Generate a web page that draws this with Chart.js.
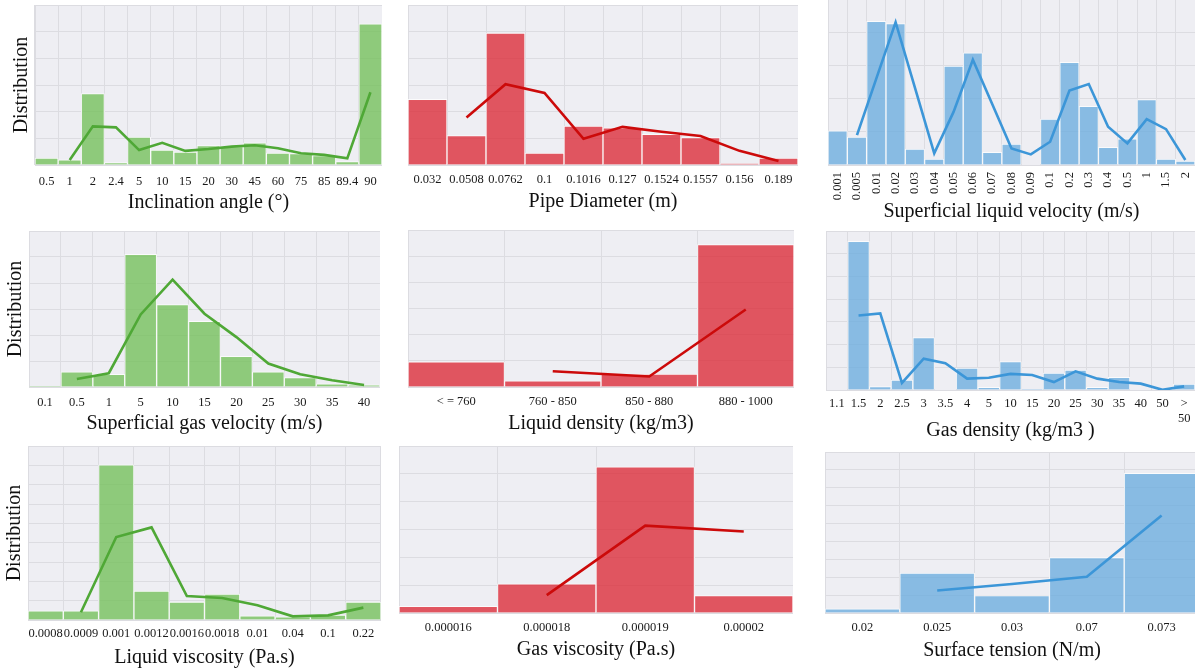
<!DOCTYPE html>
<html>
<head>
<meta charset="utf-8">
<script src="https://cdn.jsdelivr.net/npm/chart.js@4.4.1/dist/chart.umd.min.js"></script>
<style>
  html, body { margin: 0; padding: 0; background: #ffffff; overflow: hidden; width: 1195px; height: 672px; }
  #grid { position: relative; width: 1195px; height: 672px; overflow: hidden; }
  #grid canvas { position: absolute; }
</style>
</head>
<body>
<div id="grid"></div>
<script>
// ---- Inclination angle ----
const inclinationLabels = ['0.5', '1', '2', '2.4', '5', '10', '15', '20', '30', '45', '60', '75', '85', '89.4', '90'];
const inclinationBars = [0.26, 0.19, 2.68, 0.09, 1.05, 0.56, 0.48, 0.73, 0.69, 0.83, 0.45, 0.43, 0.35, 0.13, 5.29];
const inclinationLine = [null, 0.19, 1.45, 1.41, 0.56, 0.83, 0.53, 0.60, 0.69, 0.74, 0.63, 0.44, 0.38, 0.25, 2.73];

// ---- Pipe diameter ----
const diameterLabels = ['0.032', '0.0508', '0.0762', '0.1', '0.1016', '0.127', '0.1524', '0.1557', '0.156', '0.189'];
const diameterBars = [2.46, 1.10, 4.95, 0.45, 1.46, 1.39, 1.15, 1.03, 0.05, 0.26];
const diameterLine = [null, 1.78, 3.03, 2.70, 0.98, 1.43, 1.25, 1.09, 0.53, 0.15];

// ---- Superficial liquid velocity ----
const liquidVelLabels = ['0.001', '0.005', '0.01', '0.02', '0.03', '0.04', '0.05', '0.06', '0.07', '0.08', '0.09', '0.1', '0.2', '0.3', '0.4', '0.5', '1', '1.5', '2'];
const liquidVelBars = [1.03, 0.84, 4.33, 4.26, 0.48, 0.18, 2.98, 3.38, 0.38, 0.63, 0, 1.38, 3.09, 1.77, 0.53, 0.79, 1.97, 0.18, 0.12];
const liquidVelLine = [null, 0.90, 2.60, 4.30, 2.33, 0.35, 1.60, 3.17, 1.84, 0.50, 0.32, 0.70, 2.24, 2.44, 1.15, 0.65, 1.38, 1.08, 0.15];

// ---- Superficial gas velocity ----
const gasVelLabels = ['0.1', '0.5', '1', '5', '10', '15', '20', '25', '30', '35', '40'];
const gasVelBars = [0.03, 0.58, 0.49, 5.10, 3.17, 2.53, 1.18, 0.58, 0.36, 0.12, 0.08];
const gasVelLine = [null, 0.31, 0.53, 2.79, 4.13, 2.82, 1.92, 0.90, 0.49, 0.26, 0.08];

// ---- Liquid density ----
const liquidDensLabels = ['< = 760', '760 - 850', '850 - 880', '880 - 1000'];
const liquidDensBars = [0.96, 0.24, 0.49, 5.44];
const liquidDensLine = [null, 0.60, 0.40, 2.96];

// ---- Gas density ----
const gasDensLabels = ['1.1', '1.5', '2', '2.5', '3', '3.5', '4', '5', '10', '15', '20', '25', '30', '35', '40', '50', ['>', '50']];
const gasDensBars = [0, 6.54, 0.15, 0.44, 2.31, 0, 0.97, 0.12, 1.25, 0.04, 0.75, 0.88, 0.12, 0.56, 0, 0, 0.26];
const gasDensLine = [null, 3.28, 3.37, 0.31, 1.38, 1.18, 0.50, 0.54, 0.71, 0.66, 0.35, 0.82, 0.50, 0.35, 0.28, 0.01, 0.16];

// ---- Liquid viscosity ----
const liquidViscLabels = ['0.0008', '0.0009', '0.001', '0.0012', '0.0016', '0.0018', '0.01', '0.04', '0.1', '0.22'];
const liquidViscBars = [0.47, 0.47, 8.02, 1.50, 0.93, 1.34, 0.21, 0.16, 0.26, 0.93];
const liquidViscLine = [null, 0.40, 4.29, 4.79, 1.24, 1.14, 0.76, 0.19, 0.24, 0.64];

// ---- Gas viscosity ----
const gasViscLabels = ['0.000016', '0.000018', '0.000019', '0.00002'];
const gasViscBars = [0.24, 1.05, 5.25, 0.63];
const gasViscLine = [null, 0.64, 3.14, 2.93];

// ---- Surface tension ----
const tensionLabels = ['0.02', '0.025', '0.03', '0.07', '0.073'];
const tensionBars = [0.24, 2.23, 0.97, 3.10, 7.81];
const tensionLine = [null, 1.26, 1.62, 2.03, 5.45];

// colour sets per column
const palettes = {
  green: { bar: 'rgba(117,192,93,0.8)', line: '#4FA836' },
  red:   { bar: 'rgba(220,46,59,0.8)',  line: '#CC0A0A' },
  blue:  { bar: 'rgba(110,174,223,0.8)', line: '#3C96D8' }
};

const SERIF = "'Liberation Serif', 'Times New Roman', serif";
const PLOT_BG = '#EEEEF3';
const GRID = '#DCDCE1';

// fills the plotting area before anything else is drawn
const plotBackground = {
  id: 'plotBackground',
  beforeDraw(chart) {
    const { ctx, chartArea: a } = chart;
    ctx.save();
    ctx.fillStyle = PLOT_BG;
    ctx.fillRect(a.left, a.top, a.right - a.left, a.bottom - a.top);
    ctx.restore();
  }
};

// panel placement: plot box (l, r, t, b), grid rows, label padding, title centre
const panels = [
  { labels: inclinationLabels, bars: inclinationBars, line: inclinationLine, pal: 'green', title: 'Inclination angle (°)',
    l: 35, r: 382, t: 5, b: 165, yMax: 6, tickPad: 9, titleY: 203, yTitlePad: 10 },
  { labels: diameterLabels, bars: diameterBars, line: diameterLine, pal: 'red', title: 'Pipe Diameter (m)',
    l: 408, r: 798, t: 5, b: 165, yMax: 6, tickPad: 7, titleY: 202 },
  { labels: liquidVelLabels, bars: liquidVelBars, line: liquidVelLine, pal: 'blue', title: 'Superficial liquid velocity (m/s)',
    l: 828, r: 1195, t: -1, b: 165, yMax: 5, tickPad: 7, titleY: 212, rotate: true },
  { labels: gasVelLabels, bars: gasVelBars, line: gasVelLine, pal: 'green', title: 'Superficial gas velocity (m/s)',
    l: 29, r: 380, t: 231, b: 387, yMax: 6, tickPad: 8, titleY: 424, yTitlePad: 4 },
  { labels: liquidDensLabels, bars: liquidDensBars, line: liquidDensLine, pal: 'red', title: 'Liquid density (kg/m3)',
    l: 408, r: 794, t: 230, b: 387, yMax: 6, tickPad: 7, titleY: 424 },
  { labels: gasDensLabels, bars: gasDensBars, line: gasDensLine, pal: 'blue', title: 'Gas density (kg/m3 )',
    l: 826, r: 1195, t: 231, b: 390, yMax: 7, tickPad: 6.5, titleY: 431 },
  { labels: liquidViscLabels, bars: liquidViscBars, line: liquidViscLine, pal: 'green', title: 'Liquid viscosity (Pa.s)',
    l: 28, r: 381, t: 446, b: 620, yMax: 9, tickPad: 6.5, titleY: 658, yTitlePad: 3 },
  { labels: gasViscLabels, bars: gasViscBars, line: gasViscLine, pal: 'red', title: 'Gas viscosity (Pa.s)',
    l: 399, r: 793, t: 446, b: 613, yMax: 6, tickPad: 7.5, titleY: 650 },
  { labels: tensionLabels, bars: tensionBars, line: tensionLine, pal: 'blue', title: 'Surface tension (N/m)',
    l: 825, r: 1199, t: 452, b: 613, yMax: 9, tickPad: 7.5, titleY: 651 }
];

const TITLE_SIZE = 20;
const TITLE_LH = TITLE_SIZE * 1.2;

function buildPanel(p) {
  const hasYTitle = p.yTitlePad !== undefined;
  const left = hasYTitle ? 0 : p.l;
  const top = p.t;
  const width = p.r - left;
  const height = Math.round(p.titleY + TITLE_LH / 2 - top);
  const xHeight = (top + height) - p.b;
  const yWidth = p.l - left;

  const canvas = document.createElement('canvas');
  canvas.width = width;
  canvas.height = height;
  canvas.style.left = left + 'px';
  canvas.style.top = top + 'px';
  canvas.style.width = width + 'px';
  canvas.style.height = height + 'px';
  document.getElementById('grid').appendChild(canvas);

  const pal = palettes[p.pal];

  new Chart(canvas, {
    type: 'bar',
    data: {
      labels: p.labels,
      datasets: [
        {
          type: 'line',
          data: p.line,
          borderColor: pal.line,
          borderWidth: 2.6,
          pointRadius: 0,
          tension: 0,
          fill: false,
          order: 0
        },
        {
          type: 'bar',
          data: p.bars,
          backgroundColor: pal.bar,
          borderColor: 'rgba(255,255,255,0.75)',
          borderWidth: 1,
          borderSkipped: 'bottom',
          barPercentage: 1,
          categoryPercentage: 1,
          order: 1
        }
      ]
    },
    options: {
      responsive: false,
      animation: false,
      devicePixelRatio: 1,
      events: [],
      layout: { padding: 0 },
      plugins: { legend: { display: false }, tooltip: { enabled: false } },
      scales: {
        x: {
          grid: { color: GRID, lineWidth: 1, drawTicks: false, offset: true },
          border: { color: GRID, width: 1 },
          ticks: {
            autoSkip: false,
            padding: p.tickPad,
            color: '#1a1a1a',
            font: { family: SERIF, size: 12.5 },
            maxRotation: p.rotate ? 90 : 0,
            minRotation: p.rotate ? 90 : 0
          },
          title: {
            display: true,
            text: p.title,
            color: '#111111',
            font: { family: SERIF, size: TITLE_SIZE },
            padding: { top: 0, bottom: 0 }
          },
          afterFit(scale) {
            scale.height = xHeight;
            scale.paddingLeft = 0;
            scale.paddingRight = 0;
          }
        },
        y: {
          min: 0,
          max: p.yMax,
          grid: { color: GRID, lineWidth: 1, drawTicks: false },
          border: { color: GRID, width: 1 },
          ticks: { display: false, stepSize: 1 },
          title: {
            display: hasYTitle,
            text: 'Distribution',
            color: '#111111',
            font: { family: SERIF, size: TITLE_SIZE },
            padding: { top: hasYTitle ? p.yTitlePad : 0, bottom: 0 }
          },
          afterFit(scale) {
            scale.width = yWidth;
            scale.paddingTop = 0;
            scale.paddingBottom = 0;
          }
        }
      }
    },
    plugins: [plotBackground]
  });
}

panels.forEach(buildPanel);
</script>
</body>
</html>
